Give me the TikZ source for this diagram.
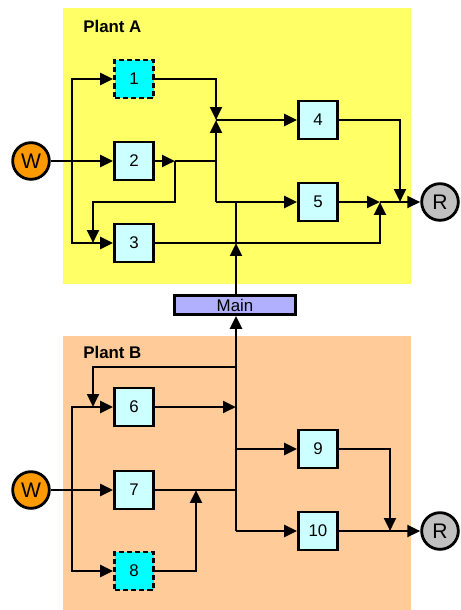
\documentclass[tikz,border=0pt]{standalone}
\usepackage{fontspec}
\setmainfont{Liberation Sans}
\usetikzlibrary{arrows.meta,positioning,calc}
\definecolor{plantA}{RGB}{255,255,102}
\definecolor{plantB}{RGB}{255,204,153}
\definecolor{unitfill}{RGB}{204,255,255}
\definecolor{optfill}{RGB}{0,255,255}
\definecolor{mainfill}{RGB}{176,176,255}
\definecolor{wfill}{RGB}{255,153,0}
\definecolor{rfill}{RGB}{192,192,192}

\begin{document}
\begin{tikzpicture}[x=0.03cm,y=-0.03cm,line width=2.4pt,
  >={Triangle[length=11pt,width=10pt]},
  unit/.style={draw,fill=unitfill,minimum width=1.17cm,minimum height=1.14cm,inner sep=0pt,font=\Large},
  optunit/.style={unit,fill=optfill,dash pattern=on 4.5pt off 2.5pt},
  water/.style={draw,circle,fill=wfill,minimum size=1.1cm,inner sep=0pt,font=\fontsize{18}{20}\selectfont},
  recv/.style={draw,circle,fill=rfill,minimum size=1.1cm,inner sep=0pt,font=\fontsize{18}{20}\selectfont},
  plantlabel/.style={anchor=base west,font=\Large\bfseries}]
\useasboundingbox (0,0) rectangle (461,610);
% plant areas
\fill[plantA] (63,8) rectangle (411,284);
\fill[plantB] (63,336) rectangle (411,610);
\node[plantlabel] (la) at (78,32) {Plant A};
\node[plantlabel] (lb) at (78,358) {Plant B};

% plant A
\node[optunit] (n1) at (134,79) {1};
\node[unit] (n2) at (134,161) {2};
\node[unit] (n3) at (134,243) {3};
\node[unit] (n4) at (318,120) {4};
\node[unit] (n5) at (318,202) {5};
\node[water] (wA) at (31,161) {W};
\node[recv] (rA) at (440,202) {R};
\node[draw,fill=mainfill,minimum width=3.65cm,minimum height=0.57cm,inner sep=0pt,font=\Large] (main) at (235,305) {Main};

\coordinate (bA) at (72,161);
\coordinate (j2) at (175,161);
\coordinate (k2) at (216,161);
\coordinate (m4) at (216,120);
\coordinate (c5) at (216,202);
\coordinate (b3) at (93,202);
\coordinate (t3) at (93,243);
\coordinate (mA) at (236,243);
\coordinate (tA) at (236,202);
\coordinate (m5) at (380,202);
\coordinate (m4r) at (400,202);

\draw[->] (wA) -- (n2);
\draw[->] (bA) |- (n1);
\draw[->] (bA) |- (n3);
\draw[->] (n1) -| (m4);
\draw[->] (n2) -- (j2);
\draw (j2) -- (k2);
\draw[->] (j2) |- (b3) -- (t3);
\draw[->] (c5) -- (m4);
\draw[->] (m4) -- (n4);
\draw[->] (c5) -- (n5);
\draw[->] (main.north -| mA) -- (mA);
\draw (mA) -- (tA);
\draw[->] (n3) -| (m5);
\draw[->] (n5) -- (m5);
\draw[->] (n4) -| (m4r);
\draw[->] (m5) -- (rA);

% plant B
\node[unit] (n6) at (134,407) {6};
\node[unit] (n7) at (134,490) {7};
\node[optunit] (n8) at (134,571) {8};
\node[unit] (n9) at (318,449) {9};
\node[unit] (n10) at (318,531) {10};
\node[water] (wB) at (31,490) {W};
\node[recv] (rB) at (440,531) {R};

\coordinate (bB) at (72,490);
\coordinate (s6) at (236,367);
\coordinate (t6) at (93,407);
\coordinate (m6) at (236,407);
\coordinate (k7) at (236,490);
\coordinate (m7) at (196,490);
\coordinate (s9) at (236,449);
\coordinate (c10) at (236,531);
\coordinate (m10) at (390,531);

\draw[->] (wB) -- (n7);
\draw[->] (bB) |- (n6);
\draw[->] (bB) |- (n8);
\draw[->] (c10) -- (c10 |- main.south);
\draw[->] (s6) -| (t6);
\draw[->] (n6) -- (m6);
\draw (n7) -- (k7);
\draw[->] (n8) -| (m7);
\draw[->] (s9) -- (n9);
\draw[->] (c10) -- (n10);
\draw[->] (n9) -| (m10);
\draw[->] (n10) -- (rB);
\end{tikzpicture}
\end{document}
